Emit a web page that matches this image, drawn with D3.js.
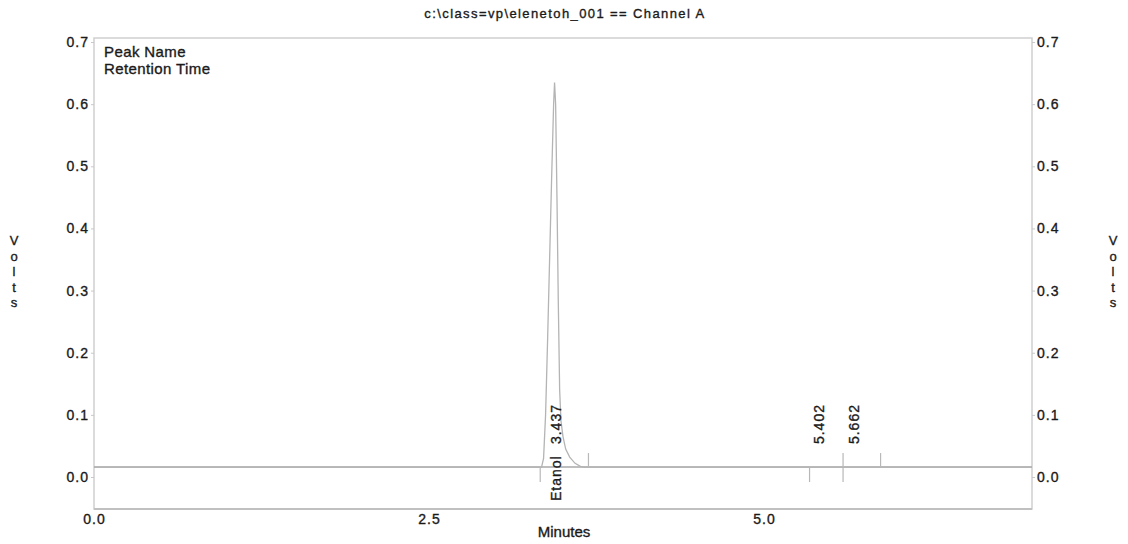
<!DOCTYPE html>
<html><head><meta charset="utf-8">
<script src="https://cdn.jsdelivr.net/npm/d3@7/dist/d3.min.js"></script>
<style>body{margin:0;background:#fff}svg{display:block}text{font-family:"Liberation Sans",Arial,sans-serif;fill:#1a1a1a;stroke:#1a1a1a;stroke-width:0.35px}</style>
</head><body><svg id="c" width="1128" height="544"></svg>
<script>
const title = "c:\\class=vp\\elenetoh_001 == Channel A";
const xTicks = [0, 2.5, 5.0];
const yTicks = [0.0, 0.1, 0.2, 0.3, 0.4, 0.5, 0.6, 0.7];
const traceTime = [0, 3.34, 3.355, 3.37, 3.385, 3.40, 3.415, 3.43, 3.437, 3.445, 3.455, 3.465, 3.475, 3.485, 3.50, 3.52, 3.55, 3.59, 3.63, 3.66, 7.0];
const traceVolts = [0.016, 0.016, 0.03, 0.10, 0.22, 0.35, 0.48, 0.60, 0.635, 0.60, 0.45, 0.28, 0.14, 0.09, 0.065, 0.045, 0.032, 0.022, 0.017, 0.016, 0.016];
const peakNames = ["Etanol", "", ""];
const peakTimes = [3.437, 5.402, 5.662];
const eventTimes = [3.33, 3.69, 5.34, 5.59, 5.87];
const eventDir = ["down", "up", "down", "both", "up"];
const baseline = 0.016;

const svg = d3.select("#c");
const L = 94, R = 1032, T = 38, B = 509;
const x = d3.scaleLinear().domain([0, 7]).range([L, R]);
const y = d3.scaleLinear().domain([-0.0515, 0.7065]).range([B, T]);

// frame
svg.append("rect").attr("x", L).attr("y", T).attr("width", R - L).attr("height", B - T)
  .attr("fill", "none").attr("stroke", "#cfcfcf").attr("stroke-width", 1.5);
svg.append("line").attr("x1", L).attr("x2", R).attr("y1", B).attr("y2", B)
  .attr("stroke", "#c0c0c0").attr("stroke-width", 2);

// axes
const fmt = d3.format(".1f");
const yl = svg.append("g").attr("transform", `translate(${L},0)`)
  .call(d3.axisLeft(y).tickValues(yTicks).tickFormat(fmt).tickSize(3).tickPadding(2));
const yr = svg.append("g").attr("transform", `translate(${R},0)`)
  .call(d3.axisRight(y).tickValues(yTicks).tickFormat(fmt).tickSize(3).tickPadding(2));
const xa = svg.append("g").attr("transform", `translate(0,${B})`)
  .call(d3.axisBottom(x).tickValues(xTicks).tickFormat(fmt).tickSize(0).tickPadding(5));
[yl, yr, xa].forEach(g => {
  g.select(".domain").remove();
  g.selectAll("line").attr("stroke", "#c8c8c8");
  g.selectAll("text").attr("font-size", 14).attr("letter-spacing", 1).attr("fill", "#1a1a1a")
    .style("font-family", '"Liberation Sans",Arial,sans-serif');
});

// baseline
svg.append("line").attr("x1", L).attr("x2", R).attr("y1", y(baseline)).attr("y2", y(baseline))
  .attr("stroke", "#a8a8a8").attr("stroke-width", 1.4);

// trace
const pts = traceTime.map((t, i) => [t, traceVolts[i]]);
svg.append("path").datum(pts)
  .attr("d", d3.line().x(d => x(d[0])).y(d => y(d[1])))
  .attr("fill", "none").attr("stroke", "#b4b4b4").attr("stroke-width", 1.3);

// event marks
const by = y(baseline);
eventTimes.forEach((t, i) => {
  const d = eventDir[i];
  const y1 = (d === "down") ? by : by - 14;
  const y2 = (d === "up") ? by : by + 15;
  svg.append("line").attr("x1", x(t)).attr("x2", x(t)).attr("y1", y1).attr("y2", y2)
    .attr("stroke", "#b8b8b8").attr("stroke-width", 1.2);
});

// peak labels
peakTimes.forEach((t, i) => {
  const px = x(t) + 6;
  svg.append("text").attr("transform", `translate(${px},${by - 23}) rotate(-90)`)
    .attr("font-size", 14).attr("letter-spacing", 1).text(d3.format(".3f")(t));
  if (peakNames[i]) {
    svg.append("text").attr("transform", `translate(${px},${by + 34}) rotate(-90)`)
      .attr("font-size", 14).attr("letter-spacing", 1).text(peakNames[i]);
  }
});

// legend text
svg.append("text").attr("x", 104).attr("y", 57).attr("font-size", 15).attr("letter-spacing", 0.4).text("Peak Name");
svg.append("text").attr("x", 104).attr("y", 74).attr("font-size", 15).attr("letter-spacing", 0.4).text("Retention Time");

// title
svg.append("text").attr("x", 565).attr("y", 18).attr("text-anchor", "middle").attr("font-size", 13)
  .attr("letter-spacing", 1.4).text(title);

// x label
svg.append("text").attr("x", 564).attr("y", 537).attr("text-anchor", "middle").attr("font-size", 15).text("Minutes");

// y labels stacked letters
["V", "o", "l", "t", "s"].forEach((ch, i) => {
  [14, 1113].forEach(cx => {
    svg.append("text").attr("x", cx).attr("y", 245 + i * 15.5).attr("text-anchor", "middle")
      .attr("font-size", 13).text(ch);
  });
});
</script></body></html>
